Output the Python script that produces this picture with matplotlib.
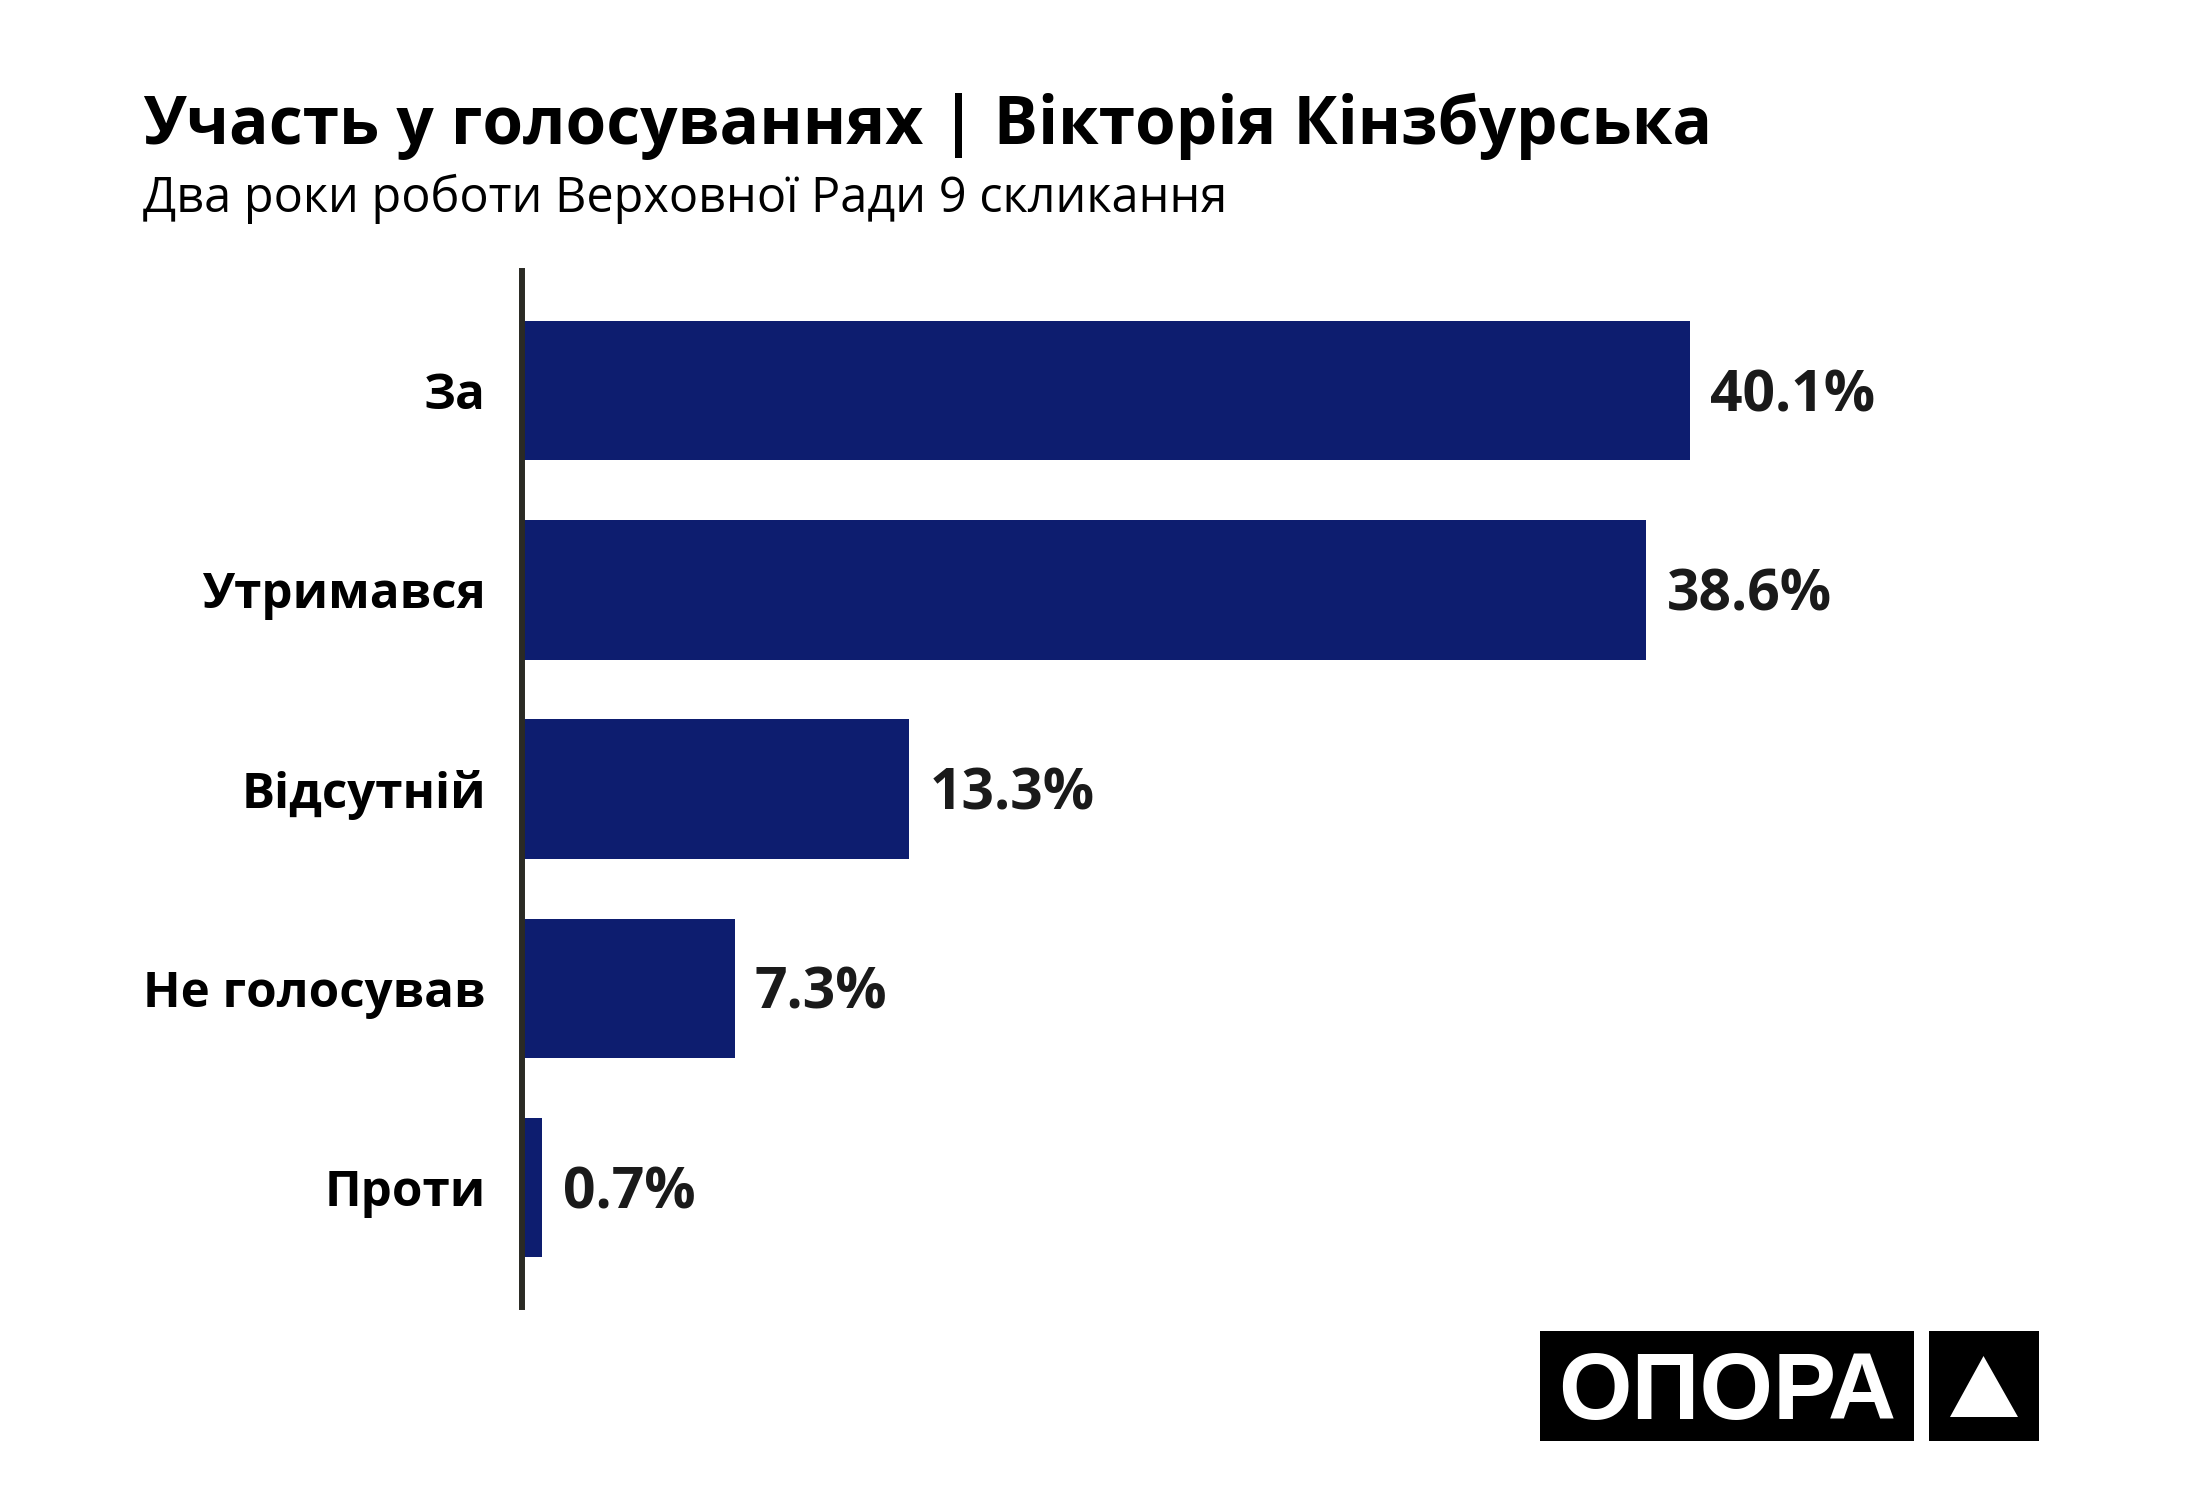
import matplotlib
matplotlib.use("Agg")
import matplotlib.pyplot as plt
from matplotlib.patches import Rectangle, Polygon

categories = ["За", "Утримався", "Відсутній", "Не голосував", "Проти"]
values = [40.1, 38.6, 13.3, 7.3, 0.7]
value_labels = ["40.1%", "38.6%", "13.3%", "7.3%", "0.7%"]

title = "Участь у голосуваннях | Вікторія Кінзбурська"
subtitle = "Два роки роботи Верховної Ради 9 скликання"
logo_text = "ОПОРА"

W, H = 2200, 1500
BAR_COLOR = "#0d1d6f"
AXIS_COLOR = "#2a2a24"
TEXT_COLOR = "#1a1a1a"

plt.rcParams['font.family'] = ['Open Sans', 'DejaVu Sans']

fig = plt.figure(figsize=(W / 100, H / 100), dpi=100)
fig.patch.set_facecolor("white")

# axes in pixel terms
ax_left, ax_right = 522, 522 + 29.13 * 50
ax_top, ax_bottom = 271, 1307
ax = fig.add_axes([ax_left / W, 1 - ax_bottom / H, (ax_right - ax_left) / W, (ax_bottom - ax_top) / H])

ypos = list(range(len(categories)))
ax.barh(ypos, values, height=0.7, color=BAR_COLOR, zorder=2)
ax.set_xlim(0, 50)
ax.set_ylim(len(categories) - 0.4, -0.6)

for spine in ["top", "right", "bottom"]:
    ax.spines[spine].set_visible(False)
ax.spines["left"].set_linewidth(4.3)
ax.spines["left"].set_color(AXIS_COLOR)
ax.spines["left"].set_zorder(3)
ax.set_xticks([])
ax.set_yticks(ypos)
ax.set_yticklabels(categories, fontsize=35.5, fontweight="bold", color="black")
ax.tick_params(axis="y", length=0, pad=26)

for y, v, lab in zip(ypos, values, value_labels):
    ax.annotate(lab, xy=(v, y), xytext=(14.5, -14.8), textcoords="offset points",
                ha="left", va="baseline", fontsize=41, fontweight="bold",
                color=TEXT_COLOR)

fig.text(143 / W, 1 - 144 / H, title, fontsize=47.3, fontweight="bold",
         color="black", ha="left", va="baseline")
fig.text(143 / W, 1 - 212 / H, subtitle, fontsize=35, fontweight="normal",
         color="black", ha="left", va="baseline")

# logo
def fx(px):
    return px / W

def fy(py):
    return 1 - py / H

fig.patches.append(Rectangle((fx(1540), fy(1441)), fx(1914) - fx(1540), fy(1331) - fy(1441),
                             transform=fig.transFigure, facecolor="black", edgecolor="none"))
fig.patches.append(Rectangle((fx(1929), fy(1441)), fx(2039) - fx(1929), fy(1331) - fy(1441),
                             transform=fig.transFigure, facecolor="black", edgecolor="none"))
fig.patches.append(Polygon([(fx(1950), fy(1417)), (fx(2018), fy(1417)), (fx(1983.5), fy(1356))],
                           closed=True, transform=fig.transFigure, facecolor="white", edgecolor="none"))
fig.text(fx(1727), fy(1419), logo_text, fontsize=68, fontweight="bold", color="white",
         ha="center", va="baseline", family=["Liberation Sans", "DejaVu Sans"])

fig.savefig("out.png", dpi=100, facecolor="white")
